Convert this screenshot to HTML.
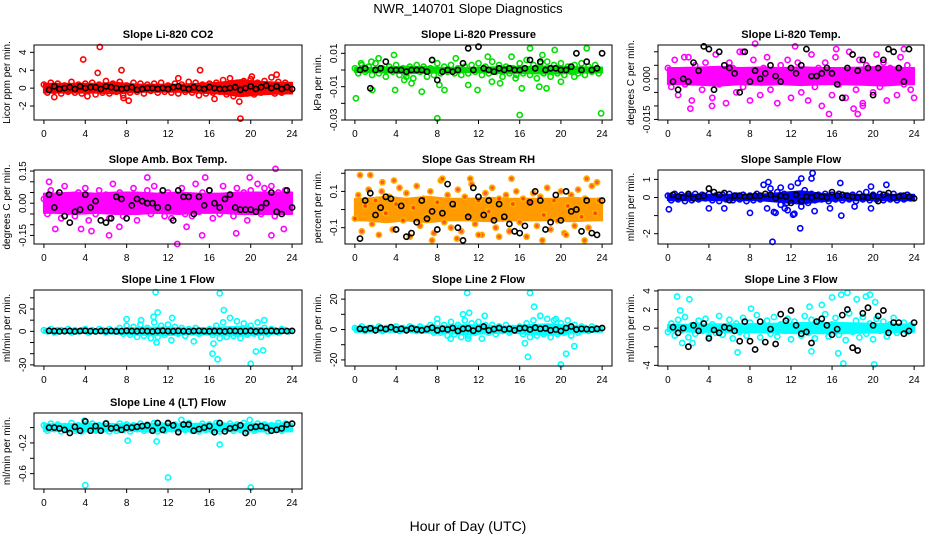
<!DOCTYPE html>
<html><head><meta charset="utf-8"><title>NWR_140701 Slope Diagnostics</title>
<style>
html,body{margin:0;padding:0;background:#fff;}
svg{display:block;font-family:"Liberation Sans",Arial,sans-serif;}
</style></head>
<body>
<svg id="chart" width="936" height="540" viewBox="0 0 936 540" xmlns="http://www.w3.org/2000/svg">
<rect x="0" y="0" width="936" height="540" fill="#fff"/>
<text x="468" y="13" text-anchor="middle" font-size="13">NWR_140701  Slope Diagnostics</text>
<text x="468" y="531" text-anchor="middle" font-size="14">Hour of Day (UTC)</text>
</svg>
<script>
// ---- data (hours on x; colored series sampled every 1/3 h, black every 0.5 h, band half-width every 2 h) ----
const xTicks = [0,4,8,12,16,20,24];

const co2Vals = [0.4,-0.5,0.6,-0.3,0.5,-0.6,0.3,-0.4,0.7,-0.5,0.4,-0.6,0.5,-0.3,0.6,-0.7,0.4,-0.5,0.8,-0.6,0.5,-0.4,0.7,-0.8,0.3,-0.5,0.6,-0.4,0.5,-0.6,0.4,-0.3,0.5,-0.5,0.6,-0.4,0.3,-0.5,0.5,-0.6,0.4,-0.4,0.7,-0.5,0.6,-0.8,0.4,-0.6,0.5,-0.5,0.6,-0.4,0.9,-0.7,1.1,-0.9,0.6,-0.5,0.8,-0.6,1.0,-0.7,0.6,-0.5,0.8,-0.4,1.2,-0.6,0.7,-0.5,0.6,-0.3];
const co2Out = [[3.8,3.2],[5.4,4.6],[5.2,1.7],[7.5,2.0],[1.0,-1.0],[8.2,-1.4],[15.1,2.0],[19.0,-3.4],[18.9,-1.5],[16.5,-1.2],[4.2,-0.9],[7.7,-1.1],[22.5,1.5],[13.0,1.1],[20.1,1.3]];
const co2Black = [-0.2,0.2,-0.1,0.0,0.1,-0.1,0.2,0.0,0.1,0.1,-0.1,0.2,0.1,0.0,-0.1,0.0,0.1,-0.2,-0.1,0.0,0.0,-0.1,0.0,-0.1,0.1,0.2,0.0,-0.1,0.1,0.0,-0.1,0.1,0.0,-0.1,-0.1,0.0,0.1,-0.2,0.0,0.2,-0.1,0.1,0.3,0.0,0.2,-0.1,0.1,-0.1];
const co2Band = [0.5,0.5,0.5,0.6,0.4,0.4,0.4,0.5,0.6,0.9,0.7,0.6];
const co2YTicks = [-2,0,2,4];
const co2YLabels = ["-2","0","2","4"];

const presVals = [0.001,-0.002,0.003,-0.001,0.002,-0.003,0.004,-0.002,0.001,-0.004,0.002,-0.001,0.003,-0.003,0.001,-0.002,0.002,-0.005,0.003,-0.001,0.002,-0.004,0.001,-0.003,0.004,-0.002,0.002,-0.001,0.003,-0.002,0.001,-0.003,0.002,-0.002,0.003,-0.001,0.004,-0.003,0.002,-0.002,0.005,-0.001,0.003,-0.004,0.002,-0.002,0.001,-0.003,0.004,-0.002,0.006,-0.003,0.003,-0.005,0.004,-0.002,0.005,-0.004,0.003,-0.002,0.004,-0.003,0.002,-0.001,0.003,-0.002,0.004,-0.003,0.002,-0.001,0.003,-0.002];
const presOut = [[0.1,-0.017],[0.6,0.004],[1.6,0.005],[1.7,-0.012],[2.3,0.007],[3.8,0.009],[3.9,-0.012],[4.8,-0.006],[5.5,-0.008],[6.5,-0.013],[7.5,0.006],[8.0,-0.029],[8.2,-0.009],[8.7,-0.012],[9.8,0.007],[11.0,-0.009],[11.9,-0.012],[12.9,0.008],[14.1,-0.008],[15.2,0.008],[15.6,-0.005],[16.0,-0.027],[16.2,-0.011],[17.0,0.013],[17.9,-0.010],[18.6,-0.011],[18.2,0.009],[19.4,0.012],[20.0,-0.007],[21.3,-0.004],[22.5,0.013],[23.9,-0.026],[13.3,-0.007],[5.0,-0.004]];
const presBlack = [0,0.001,-0.011,0,0.001,0.005,0,0,0,-0.001,0,0,0,-0.001,0.006,-0.006,-0.001,0,-0.001,0,0.004,0.013,0,0.014,0.001,0,-0.001,0.001,0,0.001,0,0,0.001,0.006,0.001,0.005,0,0.001,0.001,0,0,0.002,0.01,0,0.005,0,0.001,0.01];
const presBand = [0.0012,0.0015,0.002,0.0018,0.0012,0.0012,0.0015,0.002,0.002,0.0022,0.0018,0.0015];
const presYTicks = [0.01,0,-0.01,-0.02,-0.03];
const presYLabels = ["0.01","","-0.01","","-0.03"];

const tempVals = [0.004,-0.003,0.007,-0.006,0.002,-0.002,0.008,-0.008,0.005,0.000,-0.004,0.006,0.003,-0.007,0.009,-0.002,0.001,-0.009,0.006,0.004,-0.005,0.010,-0.003,0.003,-0.008,0.007,0.000,-0.006,0.004,0.008,-0.004,0.002,-0.009,0.005,-0.001,0.007,-0.007,0.003,0.006,-0.005,0.001,-0.008,0.009,-0.003,0.004,-0.010,0.006,0.002,-0.006,0.008,-0.002,0.003,-0.007,0.010,0.000,-0.004,0.007,-0.009,0.005,0.002,-0.005,0.009,-0.003,0.006,-0.008,0.004,0.001,-0.006,0.008,-0.002,0.005,-0.004];
const tempOut = [[2.2,-0.011],[4.3,-0.010],[5.0,0.014],[8.5,0.013],[12.4,0.012],[15.7,-0.013],[16.4,0.011],[18.1,-0.011],[18.5,-0.013],[19.0,-0.010],[23.0,0.011],[24.0,-0.007],[1.6,0.008],[7.3,0.010]];
const tempBlack = [-0.001,-0.004,0.000,-0.001,0.006,0.003,0.012,0.011,-0.004,0.010,0.005,0.004,0.002,-0.005,0.010,-0.001,0.003,0.000,0.002,0.005,0.001,-0.001,0.014,0.004,0.002,0.005,0.011,0.001,0.001,0.002,0.004,0.002,-0.002,-0.007,0.004,0.009,0.003,0.007,0.004,-0.006,0.004,0.007,0.011,0.010,0.004,-0.001,0.011,-0.017];
const tempBand = [0.003,0.0032,0.0035,0.003,0.0032,0.003,0.0033,0.003,0.003,0.0032,0.0035,0.003];
const tempYTicks = [0.010,0.005,0,-0.005,-0.010,-0.015];
const tempYLabels = ["","","0.000","","","-0.015"];

const boxVals = [0.02,-0.05,0.06,-0.02,0.04,-0.07,0.08,-0.04,0.03,-0.06,0.05,-0.01,0.07,-0.08,0.02,-0.05,0.06,-0.03,0.04,-0.07,0.09,-0.02,0.05,-0.06,0.03,-0.04,0.07,-0.08,0.02,-0.03,0.06,-0.05,0.08,-0.02,0.04,-0.06,0.05,-0.07,0.03,-0.03,0.07,-0.05,0.02,-0.06,0.09,-0.04,0.05,-0.02,0.06,-0.07,0.03,-0.05,0.08,-0.03,0.04,-0.06,0.07,-0.02,0.05,-0.08,0.06,-0.04,0.09,-0.05,0.07,-0.03,0.08,-0.06,0.05,-0.02,0.06,-0.03];
const boxOut = [[1.1,-0.12],[3.6,-0.12],[4.6,-0.13],[6.3,-0.15],[10.0,0.12],[12.9,-0.19],[13.8,-0.11],[15.3,-0.15],[15.6,0.12],[18.6,-0.14],[19.9,0.12],[22.4,0.16],[22.0,-0.15],[23.2,-0.12],[7.3,-0.11],[0.5,0.10]];
const boxBlack = [0.04,-0.02,0.05,-0.06,-0.09,-0.04,-0.03,0.04,-0.02,0.01,-0.08,-0.09,-0.07,0.03,0.02,-0.07,-0.01,0.02,0.01,0.00,0.00,-0.02,0.06,-0.02,-0.08,0.06,0.03,0.03,-0.05,0.03,-0.01,0.06,0.00,-0.02,0.02,0.04,-0.02,-0.03,-0.03,-0.03,-0.04,-0.02,0.00,0.05,-0.04,-0.05,0.06,-0.02];
const boxBand = [0.045,0.05,0.045,0.05,0.05,0.045,0.05,0.045,0.045,0.05,0.05,0.05];
const boxYTicks = [0.15,0.10,0.05,0,-0.05,-0.10,-0.15];
const boxYLabels = ["0.15","","","0.00","","","-0.15"];

const rhVals = [-0.05,0.08,-0.12,0.02,0.11,-0.08,0.05,-0.14,0.15,-0.02,0.07,-0.11,0.03,0.12,-0.06,0.09,-0.15,0.01,0.13,-0.09,0.06,-0.04,0.10,-0.13,0.04,0.16,-0.07,0.08,-0.10,0.02,0.11,-0.12,0.07,-0.03,0.14,-0.08,0.05,-0.14,0.09,-0.01,0.12,-0.10,0.06,-0.05,0.08,-0.12,0.03,0.10,-0.07,0.06,-0.15,0.04,0.09,-0.09,0.07,-0.03,0.12,-0.11,0.05,-0.06,0.10,-0.13,0.02,0.08,-0.09,0.11,-0.04,0.06,-0.10,0.13,-0.02,0.05];
const rhOut = [[0.5,0.19],[1.5,0.19],[3.8,0.16],[7.5,-0.17],[8.5,0.17],[9.9,-0.16],[11.2,0.17],[12.0,-0.14],[14.0,-0.15],[15.2,0.17],[18.2,-0.17],[20.5,-0.14],[22.3,-0.17],[22.5,0.17],[23.5,0.15],[2.6,0.10]];
const rhBlack = [-0.16,0.05,0.09,-0.03,0.01,0.07,0.06,-0.11,0.02,-0.15,-0.13,-0.07,0.05,-0.05,-0.01,-0.11,-0.02,0.14,0.03,-0.10,-0.17,-0.04,0.12,0.07,-0.03,0.05,-0.06,0.03,-0.04,-0.08,-0.12,-0.13,-0.09,0.04,0.10,0.05,-0.11,-0.07,0.08,-0.06,0.10,-0.01,0.00,-0.12,0.05,-0.13,-0.14,0.05];
const rhBand = [0.06,0.07,0.06,0.07,0.06,0.06,0.065,0.06,0.06,0.06,0.065,0.06];
const rhYTicks = [0.2,0.1,0,-0.1];
const rhYLabels = ["","0.1","","-0.1"];

const sfVals = [0.1,-0.15,0.2,-0.1,0.15,-0.2,0.1,-0.15,0.2,-0.1,0.15,-0.05,0.2,-0.15,0.1,-0.2,0.15,-0.1,0.2,-0.15,0.1,-0.1,0.15,-0.2,0.1,-0.15,0.2,-0.1,0.7,-0.6,0.5,-0.8,0.3,-0.4,0.2,-0.7,0.6,-0.9,0.8,-0.5,0.4,-0.3,0.2,-0.15,0.15,-0.1,0.2,-0.2,0.15,-0.1,0.2,-0.15,0.1,-0.1,0.15,-0.2,0.2,-0.1,0.3,-0.15,0.15,-0.1,0.2,-0.15,0.1,-0.1,0.2,-0.15,0.1,-0.1,0.15,-0.05];
const sfOut = [[0.1,-0.65],[4.0,-0.6],[5.5,-0.6],[8.0,-0.85],[10.2,-2.45],[9.8,0.85],[10.5,-0.85],[11.0,0.55],[11.4,-0.6],[12.2,-0.95],[12.9,-1.7],[13.0,1.05],[14.1,1.35],[14.0,1.05],[14.3,-0.75],[15.8,-0.6],[16.8,0.8],[16.9,-1.0],[18.2,-0.5],[19.8,-0.6],[19.8,0.6],[21.3,0.7],[11.6,-0.3]];
const sfBlack = [0.15,0.05,0.0,0.2,-0.05,0.05,0.1,0.5,0.3,0.15,0.25,-0.15,0.1,0.1,0.05,0.05,0.1,0.1,0.2,0.15,-0.05,0.1,0.05,-0.3,0.15,-0.2,0.05,0.0,0.1,0.05,0.0,0.3,0.1,0.15,0.1,0.05,0.0,0.05,0.0,0.1,-0.2,0.15,0.25,0.0,0.05,0.1,0.05,-0.05];
const sfBand = [0.15,0.15,0.15,0.15,0.15,0.25,0.35,0.2,0.15,0.15,0.15,0.15];
const sfYTicks = [1,0,-1,-2];
const sfYLabels = ["1","0","","-2"];

const l1Vals = [1,0,2,-1,1,1,0,2,-1,1,0,1,2,-1,1,0,2,1,-1,2,0,1,3,-2,5,-3,4,-5,6,-4,3,-6,8,-5,5,-3,6,-8,4,-2,3,-4,2,-1,3,-2,1,0,2,-3,5,-6,8,-5,12,-4,9,-6,7,-3,5,-2,8,-5,3,-2,2,1,-1,2,1,0];
const l1Out = [[10.8,35],[17.0,34],[16.8,-25],[20.0,-29],[20.5,-18],[21.2,-17],[17.4,19],[11.0,17],[10.6,13],[10.9,-10],[8.0,11],[12.4,12],[16.3,-20],[16.4,-11],[14.5,-9],[9.4,10],[21.3,10]];
const l1Black = [0.5,0.3,0,0.2,0.4,0,0.3,0.5,0.2,0,0.3,0.2,0.4,0,0.2,0.5,0.3,0.1,0.4,0.2,0,0.3,0.5,0.2,0.1,0.4,0.2,0,0.3,0.5,0.2,0.1,0.3,0.2,0,0.4,0.3,0.1,0.2,0.4,0,0.3,0.2,0.5,0.1,0.3,0.2,0.4];
const l1Band = [1.5,1.5,1.5,2,3,3.5,3,2.5,3.5,4,3,1.5];
const l1YTicks = [30,20,10,0,-10,-20,-30];
const l1YLabels = ["","20","","0","","","-30"];

const l2Vals = [1,0,2,-1,1,1,0,2,-1,1,0,1,2,-1,1,0,2,1,-1,2,0,1,3,-2,4,-2,3,-4,5,-3,3,-5,6,-4,4,-2,5,-6,3,-2,3,-3,2,-1,3,-2,1,0,2,-3,4,-5,6,-4,9,-3,7,-5,6,-3,4,-2,6,-4,3,-2,2,1,-1,2,1,0];
const l2Out = [[10.9,24],[17.0,24],[17.4,15],[16.8,-18],[16.5,-9],[20.0,-23],[20.5,-16],[21.3,-11],[8.0,7],[10.5,10],[11.1,11],[12.6,9],[18.0,9],[19.5,7],[9.3,-6],[11.0,-6]];
const l2Black = [0.5,0,0.8,-0.5,1,0.3,1.5,0,0.5,-0.5,0.8,0,-0.5,0.3,1.2,-0.5,0.5,0,1,-1,0.5,0.8,-0.8,0.5,2,-0.5,0.3,1,0,0.5,-0.5,0.8,1,0,1.2,0.5,0.8,-0.5,0,-1,1,2,0,0.5,0.3,0,0.5,1];
const l2Band = [1.5,1.5,1.5,2,2.5,3,2.5,2,3,3.5,2.5,1.5];
const l2YTicks = [20,10,0,-10,-20];
const l2YLabels = ["20","","0","","-20"];

const l3Vals = [-0.4,0.5,-0.8,0.9,-0.2,1.2,-1.0,0.3,-0.6,0.8,-0.3,1.0,-0.9,0.4,-0.5,1.3,-0.7,0.2,0.9,-1.1,0.5,-0.4,1.1,-0.8,0.6,-0.2,1.4,-1.0,0.3,0.8,-0.6,1.2,-0.9,0.4,-0.3,1.0,-1.2,0.7,0.2,-0.8,1.3,-0.5,0.9,-1.1,0.6,-0.2,1.5,-0.9,0.4,1.1,-0.7,0.3,-1.3,1.6,-0.4,0.8,-1.0,1.2,-0.6,0.5,-1.2,1.0,-0.3,0.7,-0.9,0.4,1.1,-0.5,0.2,0.6,-0.4,0.3];
const l3Out = [[0.9,3.4],[2.1,3.1],[1.2,1.9],[6.8,-2.6],[14.0,-2.5],[16.6,-2.7],[17.1,-3.8],[17.5,3.8],[16.0,3.3],[16.9,3.6],[18.4,3.1],[19.3,3.4],[19.7,3.6],[20.1,-3.9],[20.2,2.8],[8.1,2.1],[13.8,2.3],[15.0,2.5],[2.4,-1.6],[1.4,-1.6]];
const l3Black = [0.1,-0.5,0.0,-2.0,0.3,-0.3,0.5,-1.1,-0.2,-0.5,0.1,0.0,-0.3,-1.4,0.7,-1.4,-2.3,0.7,-1.5,-0.1,-1.7,1.5,0.8,1.9,0.3,-0.6,-0.4,-1.6,0.7,1.0,0.3,-0.7,-0.1,1.4,2.0,-2.1,-2.4,1.6,2.2,0.3,1.3,1.9,-0.5,0.6,0.6,-0.6,-0.3,0.6];
const l3Band = [0.35,0.4,0.4,0.45,0.45,0.5,0.55,0.55,0.55,0.5,0.45,0.4];
const l3YTicks = [4,2,0,-2,-4];
const l3YLabels = ["4","2","0","","-4"];

const l4Vals = [0.03,-0.04,0.05,-0.02,0.04,-0.05,0.02,-0.03,0.06,-0.04,0.03,-0.05,0.04,-0.02,0.05,-0.04,0.03,-0.03,0.06,-0.05,0.02,-0.04,0.05,-0.03,0.04,-0.05,0.03,-0.02,0.05,-0.04,0.04,-0.03,0.06,-0.05,0.03,-0.04,0.05,-0.02,0.04,-0.05,0.03,-0.03,0.06,-0.04,0.02,-0.05,0.05,-0.03,0.04,-0.04,0.06,-0.05,0.03,-0.02,0.05,-0.04,0.04,-0.03,0.06,-0.05,0.03,-0.04,0.05,-0.02,0.04,-0.05,0.03,-0.03,0.06,-0.04,0.05,0.02];
const l4Out = [[4.0,-0.75],[8.1,-0.17],[10.9,-0.18],[12.0,-0.65],[13.3,0.1],[17.0,-0.22],[19.9,0.1],[20.0,-0.78],[3.9,0.09]];
const l4Black = [0.0,0.0,-0.01,-0.03,-0.07,0.01,-0.04,0.08,-0.04,0.02,-0.04,0.05,-0.01,0.0,-0.03,0.0,0.0,0.01,0.02,0.03,-0.04,0.06,-0.03,0.06,0.03,-0.06,0.04,0.04,-0.04,-0.02,0.0,0.02,-0.06,0.06,-0.05,-0.01,0.0,0.03,-0.07,0.0,0.01,0.02,0.0,-0.04,-0.03,-0.01,0.04,0.05];
const l4Band = [0.045,0.045,0.05,0.045,0.045,0.05,0.045,0.05,0.05,0.045,0.05,0.05];
const l4YTicks = [0,-0.2,-0.4,-0.6];
const l4YLabels = ["","-0.2","","-0.6"];

// ---- layout ----
const NS = "http://www.w3.org/2000/svg";
const svg = document.getElementById('chart');
function mk(tag, attrs, parent){
  const e = document.createElementNS(NS, tag);
  for (const k in attrs) e.setAttribute(k, attrs[k]);
  (parent||svg).appendChild(e);
  return e;
}
const cols = [[34,302],[345,612],[658,924]];
const rows = [[45,120],[170,244],[290,366],[413,489]];

const panels = [
 {key:'co2', title:'Slope Li-820 CO2', ylab:'Licor ppm per min.', c:0,r:0, ymin:-3.56,ymax:4.82, mid:0, vals:co2Vals,out:co2Out,blk:co2Black,band:co2Band,yt:co2YTicks,yl:co2YLabels,color:'#ff0000'},
 {key:'pressure', title:'Slope Li-820 Pressure', ylab:'kPa per min.', c:1,r:0, ymin:-0.030,ymax:0.015, mid:0, vals:presVals,out:presOut,blk:presBlack,band:presBand,yt:presYTicks,yl:presYLabels,color:'#00e000'},
 {key:'temp', title:'Slope Li-820 Temp.', ylab:'degrees C per min.', c:2,r:0, ymin:-0.0152,ymax:0.0125, mid:0.001, vals:tempVals,out:tempOut,blk:tempBlack,band:tempBand,yt:tempYTicks,yl:tempYLabels,color:'#ff00ff'},
 {key:'ambbox', title:'Slope Amb. Box Temp.', ylab:'degrees C per min.', c:0,r:1, ymin:-0.19,ymax:0.155, mid:0, vals:boxVals,out:boxOut,blk:boxBlack,band:boxBand,yt:boxYTicks,yl:boxYLabels,color:'#ff00ff'},
 {key:'rh', title:'Slope Gas Stream RH', ylab:'percent per min.', c:1,r:1, ymin:-0.19,ymax:0.218, mid:0, vals:rhVals,out:rhOut,blk:rhBlack,band:rhBand,yt:rhYTicks,yl:rhYLabels,color:'#ffb000',inner:'#ff3000',bandColor:'#ff9a00'},
 {key:'sampleflow', title:'Slope Sample Flow', ylab:'ml/min per min.', c:2,r:1, ymin:-2.57,ymax:1.52, mid:0, vals:sfVals,out:sfOut,blk:sfBlack,band:sfBand,yt:sfYTicks,yl:sfYLabels,color:'#0000ff'},
 {key:'line1', title:'Slope Line 1 Flow', ylab:'ml/min per min.', c:0,r:2, ymin:-31,ymax:37, mid:0, vals:l1Vals,out:l1Out,blk:l1Black,band:l1Band,yt:l1YTicks,yl:l1YLabels,color:'#00ffff'},
 {key:'line2', title:'Slope Line 2 Flow', ylab:'ml/min per min.', c:1,r:2, ymin:-24,ymax:26, mid:0, vals:l2Vals,out:l2Out,blk:l2Black,band:l2Band,yt:l2YTicks,yl:l2YLabels,color:'#00ffff'},
 {key:'line3', title:'Slope Line 3 Flow', ylab:'ml/min per min.', c:2,r:2, ymin:-4.07,ymax:4.1, mid:0, vals:l3Vals,out:l3Out,blk:l3Black,band:l3Band,yt:l3YTicks,yl:l3YLabels,color:'#00ffff'},
 {key:'line4', title:'Slope Line 4 (LT) Flow', ylab:'ml/min per min.', c:0,r:3, ymin:-0.80,ymax:0.19, mid:0, vals:l4Vals,out:l4Out,blk:l4Black,band:l4Band,yt:l4YTicks,yl:l4YLabels,color:'#00ffff'}
];

panels.forEach(p=>{
  const [L,R] = cols[p.c], [T,B] = rows[p.r];
  const g = mk('g',{});
  
  
  const xs = h => L + (h + 0.96) / 25.92 * (R - L);
  const ys = v => B - (v - p.ymin) / (p.ymax - p.ymin) * (B - T);

  const title = mk('text',{x:(L+R)/2,y:T-7,'text-anchor':'middle','font-size':11,'font-weight':'bold'},g);
  title.textContent = p.title;
  
  

  const up = [], lo = [];
  p.band.forEach((w,i)=>{
    const h = 1 + i*2;
    up.push([xs(h), ys(p.mid + w)]);
    lo.push([xs(h), ys(p.mid - w)]);
  });
  up.unshift([xs(0), up[0][1]]); up.push([xs(24), up[up.length-1][1]]);
  lo.unshift([xs(0), lo[0][1]]); lo.push([xs(24), lo[lo.length-1][1]]);
  const polyPts = up.concat(lo.reverse()).map(q=>q[0].toFixed(1)+','+q[1].toFixed(1)).join(' ');
  const band = mk('polygon',{points:polyPts,fill:p.bandColor||p.color,stroke:p.bandColor||p.color,'stroke-width':2,'stroke-linejoin':'round'},g);
  
  

  const pts = mk('g',{fill:'none'},g);
  
  
  const dot = (h,v,col,inner)=>{
    const y = ys(v); if (y < T-2 || y > B+2) return;
    const c = mk('circle',{cx:xs(h).toFixed(1),cy:y.toFixed(1),r:2.6,stroke:col,'stroke-width':1.6,fill:inner?inner:'none','fill-opacity':inner?0.8:1},pts);
    
    
  };
  p.vals.forEach((v,i)=>dot(i/3, v, p.color, p.inner));
  p.out.forEach(o=>dot(o[0], o[1], p.color, p.inner));
  const bg = mk('g',{},g);
  
  
  p.blk.forEach((v,i)=>{
    const y = ys(v); if (y < T-2 || y > B+2) return;
    const c = mk('circle',{cx:xs(0.5+i*0.5).toFixed(1),cy:y.toFixed(1),r:2.6,stroke:'#000','stroke-width':1.6,fill:'none'},bg);
    
    
  });

  const box = mk('rect',{x:L,y:T,width:R-L,height:B-T,fill:'none',stroke:'#000','stroke-width':1},g);
  
  

  const xa = mk('g',{stroke:'#000','stroke-width':1},g);
  
  
  mk('line',{x1:xs(0),x2:xs(24),y1:B,y2:B},xa);
  xTicks.forEach(t=>{
    mk('line',{x1:xs(t),x2:xs(t),y1:B,y2:B+4},xa);
    const tx = mk('text',{x:xs(t),y:B+17,'text-anchor':'middle','font-size':10,stroke:'none',fill:'#000'},g);
    tx.textContent = t;
    
    
  });
  const ya = mk('g',{stroke:'#000','stroke-width':1},g);
  
  
  const yv = p.yt.map(ys);
  mk('line',{x1:L,x2:L,y1:Math.min(...yv),y2:Math.max(...yv)},ya);
  p.yt.forEach((t,i)=>{
    mk('line',{x1:L-4,x2:L,y1:ys(t),y2:ys(t)},ya);
    if (p.yl[i]) {
      const tx = mk('text',{x:L-8,y:ys(t),'text-anchor':'middle','font-size':10,transform:`rotate(-90 ${L-8} ${ys(t)})`},g);
      tx.textContent = p.yl[i];
      
      
    }
  });
  const yt = mk('text',{x:L-24,y:(T+B)/2,'text-anchor':'middle','font-size':10,transform:`rotate(-90 ${L-24} ${(T+B)/2})`},g);
  yt.textContent = p.ylab;
  
  
});
</script>
</body></html>
